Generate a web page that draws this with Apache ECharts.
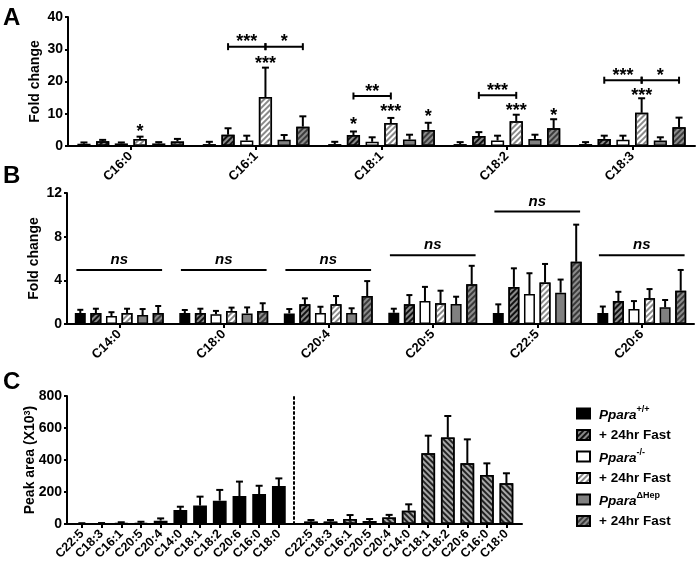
<!DOCTYPE html>
<html><head><meta charset="utf-8">
<script src="https://cdn.jsdelivr.net/npm/echarts@6/dist/echarts.min.js"></script>
<style>html,body{margin:0;padding:0;background:#fff}#c{width:697px;height:567px}</style>
</head><body><div id="c"></div>
<script>
// ---------- DATA ----------
const seriesNames = ['wt', 'wtFast', 'ko', 'koFast', 'hep', 'hepFast'];
const legendText = {
  wt: '{i|Ppara}{s|+/+}', wtFast: '+ 24hr Fast',
  ko: '{i|Ppara}{s|-/-}', koFast: '+ 24hr Fast',
  hep: '{i|Ppara}{s|ΔHep}', hepFast: '+ 24hr Fast'
};

// Panel A
const catsA = ['C16:0', 'C16:1', 'C18:1', 'C18:2', 'C18:3'];
const aWt         = [0.7, 0.6, 0.6, 0.6, 0.6];
const aWtErr      = [0.4, 0.7, 0.7, 0.6, 0.6];
const aWtFast     = [1.5, 3.5, 3.4, 3.1, 2.2];
const aWtFastErr  = [0.4, 2.0, 1.1, 1.2, 1.0];
const aKo         = [0.8, 1.7, 1.3, 1.7, 1.9];
const aKoErr      = [0.3, 1.5, 1.4, 1.5, 1.3];
const aKoFast     = [2.2, 15.2, 7.1, 7.7, 10.3];
const aKoFastErr  = [0.7, 9.1, 1.6, 2.0, 4.5];
const aHep        = [0.8, 1.9, 2.0, 2.2, 1.7];
const aHepErr     = [0.4, 1.5, 1.5, 1.3, 1.0];
const aHepFast    = [1.4, 6.0, 5.0, 5.5, 5.8];
const aHepFastErr = [0.8, 3.2, 2.2, 2.8, 3.0];
// stars above bars: [category, bar index, level, text]
const starsA = [
  [0, 3, 5.7, '*'], [1, 3, 26.7, '***'],
  [2, 1, 7.7, '*'], [2, 3, 11.9, '***'], [2, 5, 10.2, '*'],
  [3, 3, 12.1, '***'], [3, 5, 10.5, '*'], [4, 3, 16.75, '***']
];
// brackets: [category, from bar, to bar, level, text, text level]
const bracketsA = [
  [1, 1, 3, 30.8, '***', 33.6], [1, 3, 5, 30.8, '*', 33.6],
  [2, 1, 3, 15.5, '**', 18.1],
  [3, 1, 3, 15.7, '***', 18.3],
  [4, 1, 3, 20.4, '***', 23.0], [4, 3, 5, 20.4, '*', 23.0]
];
const ticksA = [0, 10, 20, 30, 40];

// Panel B
const catsB = ['C14:0', 'C18:0', 'C20:4', 'C20:5', 'C22:5', 'C20:6'];
const bWt         = [1.0, 1.0, 0.97, 1.03, 1.0, 1.0];
const bWtErr      = [0.3, 0.28, 0.4, 0.37, 0.8, 0.6];
const bWtFast     = [1.0, 1.0, 1.8, 1.8, 3.4, 2.1];
const bWtFastErr  = [0.4, 0.4, 0.55, 0.85, 1.7, 0.85];
const bKo         = [0.73, 0.9, 1.0, 2.1, 2.75, 1.37];
const bKoErr      = [0.35, 0.3, 0.58, 1.3, 1.9, 0.73];
const bKoFast     = [1.0, 1.2, 1.8, 1.9, 3.8, 2.35];
const bKoFastErr  = [0.4, 0.3, 0.76, 1.15, 1.7, 0.85];
const bHep        = [0.82, 0.97, 1.0, 1.83, 2.87, 1.53];
const bHepErr     = [0.55, 0.55, 0.44, 0.67, 1.2, 0.67];
const bHepFast    = [1.0, 1.2, 2.56, 3.63, 5.7, 3.05];
const bHepFastErr = [0.65, 0.7, 1.37, 1.7, 3.4, 1.9];
const nsLevelB    = [4.95, 4.95, 4.95, 6.3, 10.3, 6.3];
const ticksB = [0, 4, 8, 12];

// Panel C
const catsC = ['C22:5', 'C18:3', 'C16:1', 'C20:5', 'C20:4', 'C14:0', 'C18:1', 'C18:2', 'C20:6', 'C16:0', 'C18:0'];
const cWt         = [3, 3, 5, 7, 21, 87, 115, 146, 175, 187, 237];
const cWtErr      = [2, 3, 6, 7, 14, 21, 56, 67, 90, 52, 48];
const cFast       = [15, 15, 31, 19, 40, 83, 442, 540, 379, 306, 254];
const cFastErr    = [10, 10, 25, 12, 17, 40, 110, 135, 150, 73, 63];
const ticksC = [0, 200, 400, 600, 800];

// ---------- STYLE ----------
const FONT = '"Liberation Sans", Arial, sans-serif';
const BW = 0.105, BG = 0.42, PITCH = BW * (1 + BG);
const STAR_DY = 4;
const hatch = (color, gap, rot) => ({ symbol: 'rect', symbolSize: 1, dashArrayX: [1, 0], dashArrayY: [gap[0], gap[1]], rotation: rot, color });
const styles = {
  wt:      { color: '#000', borderColor: '#000', borderWidth: 1.5 },
  wtFast:  { color: '#8a8a8a', borderColor: '#000', borderWidth: 1.5, decal: hatch('#111', [2, 1.5], -Math.PI / 4) },
  ko:      { color: '#fff', borderColor: '#000', borderWidth: 1.5 },
  koFast:  { color: '#fff', borderColor: '#000', borderWidth: 1.5, decal: hatch('#8a8a8a', [2, 2], -Math.PI / 4) },
  hep:     { color: '#808080', borderColor: '#000', borderWidth: 1.5 },
  hepFast: { color: '#8c8c8c', borderColor: '#000', borderWidth: 1.5, decal: hatch('#3a3a3a', [2, 1.5], -Math.PI / 4) }
};
const cFastStyle = { color: '#a8a8a8', borderColor: '#000', borderWidth: 1.5, decal: hatch('#222', [1.5, 1.5], Math.PI / 4) };

const axisLbl = { color: '#000', fontWeight: 'bold', fontFamily: FONT };

function yAx(gi, ticks, name, extra) {
  return Object.assign({
    type: 'value', gridIndex: gi, min: ticks[0], max: ticks[ticks.length - 1],
    interval: ticks[1] - ticks[0], name, nameLocation: 'middle', nameGap: 26, nameMoveOverlap: false,
    nameTextStyle: { color: '#000', fontWeight: 'bold', fontSize: 14, fontFamily: FONT,
      rich: { s: { fontSize: 9, fontWeight: 'bold', fontFamily: FONT, verticalAlign: 'top', color: '#000' } } },
    axisLine: { show: true, lineStyle: { color: '#000', width: 2 } },
    axisTick: { show: true, length: 3, lineStyle: { color: '#000', width: 2 } },
    axisLabel: Object.assign({ fontSize: 14, margin: 5 }, axisLbl),
    splitLine: { show: false }
  }, extra || {});
}
function xAx(gi, cats, fs, extra) {
  return Object.assign({
    type: 'category', gridIndex: gi, data: cats,
    axisLine: { show: true, lineStyle: { color: '#000', width: 2 } },
    axisTick: { show: true, alignWithLabel: true, length: 4, lineStyle: { color: '#000', width: 2 } },
    axisLabel: Object.assign({ fontSize: fs, rotate: 45, interval: 0, margin: 8 }, axisLbl),
    splitLine: { show: false }
  }, extra || {});
}

function barS(name, data, gi, style, bw) {
  return { type: 'bar', name, xAxisIndex: gi, yAxisIndex: gi, data,
    barWidth: bw || (BW * 100 + '%'), barGap: (BG * 100) + '%',
    itemStyle: style, emphasis: { disabled: true }, animation: false };
}
function errS(gi, vals, errs, k, n, pitch, cap) {
  return { type: 'custom', xAxisIndex: gi, yAxisIndex: gi, z: 5, silent: true, animation: false,
    data: vals.map((v, i) => [i, v, errs[i]]),
    renderItem(params, api) {
      const i = api.value(0), v = api.value(1), e = api.value(2);
      const bw = api.size([1, 0])[0];
      const dx = (k - (n - 1) / 2) * pitch * bw;
      const p0 = api.coord([i, v]), p1 = api.coord([i, v + e]);
      const x = p0[0] + dx;
      return { type: 'group', children: [
        { type: 'line', shape: { x1: x, y1: p0[1], x2: x, y2: p1[1] }, style: { stroke: '#000', lineWidth: 2 } },
        { type: 'line', shape: { x1: x - cap, y1: p1[1], x2: x + cap, y2: p1[1] }, style: { stroke: '#000', lineWidth: 2 } }
      ] };
    } };
}
const starFont = 'bold 18px ' + FONT;

const series = [];
const aData = [[aWt, aWtErr], [aWtFast, aWtFastErr], [aKo, aKoErr], [aKoFast, aKoFastErr], [aHep, aHepErr], [aHepFast, aHepFastErr]];
const bData = [[bWt, bWtErr], [bWtFast, bWtFastErr], [bKo, bKoErr], [bKoFast, bKoFastErr], [bHep, bHepErr], [bHepFast, bHepFastErr]];
seriesNames.forEach((n, k) => series.push(barS(n, aData[k][0], 0, styles[n])));
seriesNames.forEach((n, k) => series.push(barS(n, bData[k][0], 1, styles[n])));
series.push(barS('wt', cWt, 2, styles.wt, '70%'));
series.push(barS('wtFast', cFast, 3, cFastStyle, '70%'));
aData.forEach((d, k) => series.push(errS(0, d[0], d[1], k, 6, PITCH, 3.5)));
bData.forEach((d, k) => series.push(errS(1, d[0], d[1], k, 6, PITCH, 3)));
series.push(errS(2, cWt, cWtErr, 0, 1, 0, 3.5));
series.push(errS(3, cFast, cFastErr, 0, 1, 0, 3.5));

// stars
series.push({ type: 'custom', xAxisIndex: 0, yAxisIndex: 0, z: 6, silent: true, animation: false,
  data: starsA.map(s => [s[0], s[2]]),
  renderItem(params, api) {
    const s = starsA[params.dataIndex];
    const bw = api.size([1, 0])[0];
    const p = api.coord([s[0], s[2]]);
    return { type: 'text', x: p[0] + (s[1] - 2.5) * PITCH * bw, y: p[1] + STAR_DY,
      style: { text: s[3], font: starFont, fill: '#000', align: 'center', verticalAlign: 'middle' } };
  } });
// brackets
series.push({ type: 'custom', xAxisIndex: 0, yAxisIndex: 0, z: 6, silent: true, animation: false,
  data: bracketsA.map(b => [b[0], b[3]]),
  renderItem(params, api) {
    const b = bracketsA[params.dataIndex];
    const bw = api.size([1, 0])[0];
    const c = api.coord([b[0], b[3]]);
    const x1 = c[0] + (b[1] - 2.5) * PITCH * bw, x2 = c[0] + (b[2] - 2.5) * PITCH * bw;
    const t = api.coord([b[0], b[5]]);
    const ls = { stroke: '#000', lineWidth: 2 };
    return { type: 'group', children: [
      { type: 'line', shape: { x1, y1: c[1], x2, y2: c[1] }, style: ls },
      { type: 'line', shape: { x1: x1, y1: c[1] - 3.5, x2: x1, y2: c[1] + 3.5 }, style: ls },
      { type: 'line', shape: { x1: x2, y1: c[1] - 3.5, x2: x2, y2: c[1] + 3.5 }, style: ls },
      { type: 'text', x: (x1 + x2) / 2, y: t[1] + STAR_DY,
        style: { text: b[4], font: starFont, fill: '#000', align: 'center', verticalAlign: 'middle' } }
    ] };
  } });
// ns lines
series.push({ type: 'custom', xAxisIndex: 1, yAxisIndex: 1, z: 6, silent: true, animation: false,
  data: nsLevelB.map((v, i) => [i, v]),
  renderItem(params, api) {
    const bw = api.size([1, 0])[0];
    const c = api.coord([api.value(0), api.value(1)]);
    return { type: 'group', children: [
      { type: 'line', shape: { x1: c[0] - 0.41 * bw, y1: c[1], x2: c[0] + 0.41 * bw, y2: c[1] }, style: { stroke: '#000', lineWidth: 2 } },
      { type: 'text', x: c[0], y: c[1] - 10,
        style: { text: 'ns', font: 'italic bold 15px ' + FONT, fill: '#000', align: 'center', verticalAlign: 'middle' } }
    ] };
  } });

const option = {
  animation: false,
  backgroundColor: '#fff',
  grid: [
    { left: 68, top: 17, width: 627, height: 129 },
    { left: 67, top: 193, width: 627, height: 131 },
    { left: 72, top: 396, width: 216.7, height: 128 },
    { left: 301.2, top: 396, width: 215, height: 128 },
    { left: 67, top: 396, width: 455, height: 128 }
  ],
  xAxis: [
    xAx(0, catsA, 13),
    xAx(1, catsB, 13),
    xAx(2, catsC, 12.5, { axisLine: { show: false } }),
    xAx(3, catsC, 12.5, { axisLine: { show: false } }),
    { type: 'value', gridIndex: 4, min: 0, max: 1, axisLine: { show: true, lineStyle: { color: '#000', width: 2 } },
      axisTick: { show: false }, axisLabel: { show: false }, splitLine: { show: false } }
  ],
  yAxis: [
    yAx(0, ticksA, 'Fold change', { nameGap: 26 }),
    yAx(1, ticksB, 'Fold change', { nameGap: 26 }),
    yAx(2, ticksC, 'Peak area (X10{s|3})', { offset: 5, nameGap: 30 }),
    yAx(3, ticksC, '', { offset: 7, axisLine: { show: true, lineStyle: { color: '#000', width: 2, type: [2, 3] } },
      axisTick: { show: false }, axisLabel: { show: false } }),
    { type: 'value', gridIndex: 4, min: 0, max: 800, show: false }
  ],
  legend: {
    orient: 'vertical', left: 571, top: 400, itemWidth: 13, itemHeight: 10, itemGap: 4.5, icon: 'rect',
    data: seriesNames, selectedMode: false,
    formatter: n => legendText[n],
    textStyle: { color: '#000', fontWeight: 'bold', fontSize: 13.5, fontFamily: FONT, lineHeight: 17, padding: [0, 0, 0, 4],
      rich: {
        i: { fontStyle: 'italic', fontWeight: 'bold', fontSize: 13.5, fontFamily: FONT, color: '#000', lineHeight: 17, verticalAlign: 'bottom' },
        s: { fontSize: 9, fontWeight: 'bold', fontFamily: FONT, color: '#000', verticalAlign: 'top', lineHeight: 10 }
      } }
  },
  graphic: [
    { type: 'text', left: 3, top: 6, style: { text: 'A', font: 'bold 24px ' + FONT, fill: '#000' } },
    { type: 'text', left: 3, top: 164, style: { text: 'B', font: 'bold 24px ' + FONT, fill: '#000' } },
    { type: 'text', left: 3, top: 370, style: { text: 'C', font: 'bold 24px ' + FONT, fill: '#000' } }
  ],
  series
};
const chart = echarts.init(document.getElementById('c'), null, { renderer: 'canvas' });
chart.setOption(option);
</script>
</body></html>
